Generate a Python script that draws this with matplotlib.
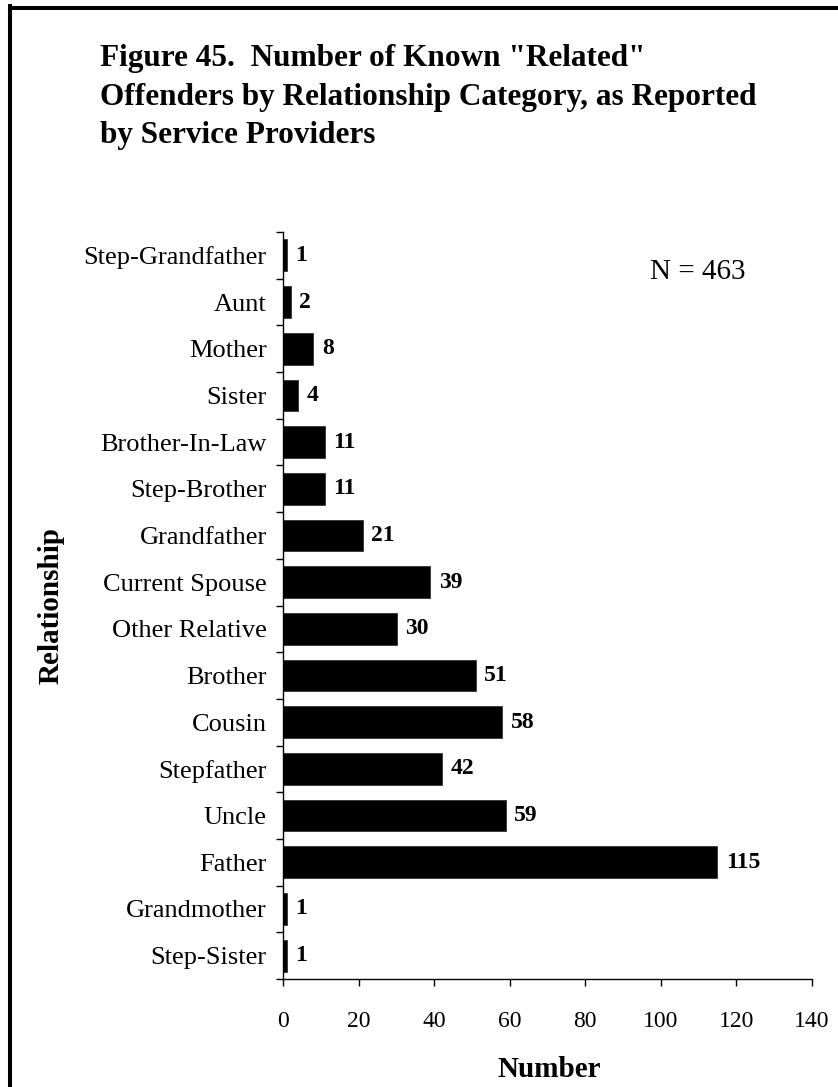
import matplotlib
matplotlib.use("Agg")
import matplotlib.pyplot as plt
from matplotlib.lines import Line2D
import numpy as np

categories = ["Step-Grandfather", "Aunt", "Mother", "Sister", "Brother-In-Law",
              "Step-Brother", "Grandfather", "Current Spouse", "Other Relative",
              "Brother", "Cousin", "Stepfather", "Uncle", "Father",
              "Grandmother", "Step-Sister"]
values = [1, 2, 8, 4, 11, 11, 21, 39, 30, 51, 58, 42, 59, 115, 1, 1]
xticks = [0, 20, 40, 60, 80, 100, 120, 140]
title_lines = ['Figure 45.  Number of Known "Related"',
               'Offenders by Relationship Category, as Reported',
               'by Service Providers']

plt.rcParams['font.family'] = ['Liberation Serif', 'DejaVu Serif']

W, H = 838, 1087
fig = plt.figure(figsize=(W / 100, H / 100), dpi=100)
fig.patch.set_facecolor('white')

left, right, top, bottom = 283.3, 811.7, 232, 979
ax = fig.add_axes([left / W, 1 - bottom / H, (right - left) / W, (bottom - top) / H])

n = len(categories)
pos = np.arange(n)
ax.barh(pos, values, height=0.68, color='black', edgecolor='#333333', linewidth=0.6)
ax.set_ylim(n - 0.5, -0.5)
ax.set_xlim(0, 140)

for p, v in zip(pos, values):
    ax.annotate(str(v), (v, p), xytext=(6, 0), textcoords='offset points',
                ha='left', va='center', fontsize=17, fontweight='bold')

ax.set_xticks(xticks)
ax.set_xticklabels([str(t) for t in xticks], fontsize=17)
ax.tick_params(axis='x', direction='out', length=5, width=1, pad=18)

ax.set_yticks(np.arange(n + 1) - 0.5)
ax.set_yticklabels([])
ax.tick_params(axis='y', which='major', direction='out', length=5, width=1)
ax.set_yticks(pos, minor=True)
ax.set_yticklabels(categories, minor=True, fontsize=19)
ax.tick_params(axis='y', which='minor', length=0, pad=12)

for s in ['top', 'right']:
    ax.spines[s].set_visible(False)
for s in ['left', 'bottom']:
    ax.spines[s].set_linewidth(1)

# Title
baselines = [66, 105, 143]
for line, b in zip(title_lines, baselines):
    fig.text(100 / W, 1 - b / H, line, ha='left', va='baseline',
             fontsize=22.5, fontweight='bold')

fig.text(650 / W, 1 - 279 / H, 'N = 463', ha='left', va='baseline', fontsize=21)

fig.text(51 / W, 1 - 606 / H, 'Relationship', rotation=90, ha='center', va='center',
         fontsize=21, fontweight='bold')
fig.text(549.5 / W, 1 - 1077 / H, 'Number', ha='center', va='baseline',
         fontsize=21, fontweight='bold')

# Frame (top and left visible)
fig.add_artist(Line2D([10 / W, 10 / W], [0, 1 - 6 / H], transform=fig.transFigure,
                      color='black', linewidth=2.9, solid_capstyle='projecting'))
fig.add_artist(Line2D([10 / W, 1], [1 - 8 / H, 1 - 8 / H], transform=fig.transFigure,
                      color='black', linewidth=2.9, solid_capstyle='projecting'))

fig.savefig('out.png', dpi=100, facecolor='white')
